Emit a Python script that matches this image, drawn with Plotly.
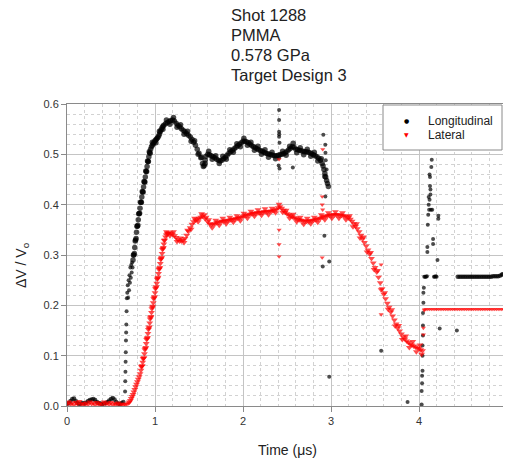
import plotly.graph_objects as go

# ---------------- data (time in microseconds, dV/Vo) ----------------
long_base = [(0.00,0.004),(0.02,0.006),(0.04,0.010),(0.06,0.014),(0.08,0.015),(0.10,0.010),(0.12,0.006),
             (0.14,0.004),(0.16,0.005),(0.18,0.006),(0.20,0.005),(0.22,0.007),(0.24,0.010),(0.26,0.012),
             (0.28,0.013),(0.30,0.014),(0.32,0.012),(0.34,0.008),(0.36,0.006),(0.38,0.005),(0.40,0.004),
             (0.42,0.005),(0.44,0.006),(0.46,0.008),(0.48,0.011),(0.50,0.014),(0.52,0.016),(0.54,0.013),
             (0.56,0.008),(0.58,0.005),(0.60,0.004),(0.62,0.006),(0.64,0.008)]
long_jump = [(0.660,0.029),(0.662,0.049),(0.664,0.068),(0.666,0.088),(0.668,0.107),(0.670,0.130),
             (0.672,0.146),(0.674,0.162),(0.677,0.188),(0.680,0.214),(0.685,0.225),(0.690,0.240),
             (0.695,0.215),(0.700,0.250),(0.705,0.230),(0.710,0.260),(0.715,0.245),(0.720,0.275),
             (0.725,0.255),(0.730,0.280),(0.735,0.265),(0.740,0.285),(0.745,0.275)]
long_main = [(0.75,0.290),(0.76,0.300),(0.77,0.315),(0.78,0.330),(0.79,0.345),(0.80,0.357),(0.81,0.370),
             (0.82,0.382),(0.83,0.393),(0.84,0.405),(0.85,0.415),(0.86,0.425),(0.87,0.435),(0.88,0.445),
             (0.89,0.455),(0.90,0.466),(0.91,0.476),(0.92,0.486),(0.93,0.495),(0.94,0.503),(0.95,0.510),
             (0.96,0.515),(0.97,0.518),(0.98,0.521),(0.99,0.524),(1.00,0.527),(1.01,0.529),(1.02,0.531),
             (1.03,0.533),(1.04,0.536),(1.05,0.540),(1.06,0.545),(1.07,0.549),(1.08,0.553),(1.09,0.556),
             (1.10,0.558),(1.12,0.561),(1.14,0.563),(1.16,0.565),(1.18,0.567),(1.20,0.568),(1.22,0.566),
             (1.24,0.562),(1.26,0.558),(1.28,0.555),(1.30,0.551),(1.32,0.548),(1.34,0.545),(1.36,0.541),
             (1.38,0.538),(1.40,0.535),(1.42,0.530),(1.44,0.524),(1.46,0.518),(1.48,0.510),(1.50,0.502),
             (1.52,0.493),(1.54,0.482),(1.55,0.476),(1.56,0.478),(1.57,0.488),(1.58,0.496),(1.60,0.500),
             (1.62,0.499),(1.64,0.497),(1.66,0.495),(1.68,0.493),(1.70,0.490),(1.72,0.488),(1.74,0.487),
             (1.76,0.488),(1.78,0.491),(1.80,0.494),(1.82,0.498),(1.84,0.502),(1.86,0.505),(1.88,0.508),
             (1.90,0.511),(1.92,0.514),(1.94,0.517),(1.96,0.520),(1.98,0.523),(2.00,0.526),(2.02,0.526),
             (2.04,0.525),(2.06,0.523),(2.08,0.520),(2.10,0.517),(2.12,0.515),(2.14,0.513),(2.16,0.511),
             (2.18,0.509),(2.20,0.507),(2.22,0.506),(2.24,0.504),(2.26,0.502),(2.28,0.501),(2.30,0.500),
             (2.32,0.499),(2.34,0.498),(2.36,0.497),(2.38,0.497),(2.40,0.498),(2.42,0.499),(2.44,0.500),
             (2.46,0.501),(2.48,0.503),(2.50,0.506),(2.52,0.509),(2.54,0.512),(2.56,0.515),(2.57,0.522),
             (2.58,0.514),(2.60,0.510),(2.62,0.509),(2.64,0.508),(2.66,0.507),(2.68,0.506),(2.70,0.505),
             (2.72,0.505),(2.74,0.504),(2.76,0.503),(2.78,0.501),(2.80,0.499),(2.82,0.497),(2.84,0.495),
             (2.86,0.492),(2.88,0.488),(2.90,0.482),(2.91,0.477),(2.92,0.470),(2.93,0.462),(2.94,0.455),
             (2.95,0.448),(2.96,0.442),(2.97,0.436)]
long_band = [(0.755,0.300),(0.765,0.303),(0.775,0.328),(0.785,0.333),(0.795,0.357),(0.805,0.359),
             (0.815,0.382),(0.825,0.383),(0.835,0.405),(0.845,0.405),(0.855,0.426),(0.865,0.425),
             (0.875,0.446),(0.885,0.445),(0.895,0.467),(0.905,0.466),(0.915,0.487),(0.925,0.486),
             (0.935,0.505),(0.945,0.502),(0.97,0.524),(1.01,0.523),(1.05,0.546),(1.09,0.550),
             (1.13,0.568),(1.17,0.560),(1.21,0.573),(1.25,0.554),(1.29,0.559),(1.33,0.540),(1.37,0.546),
             (1.41,0.526),(1.45,0.527),(1.49,0.500),(1.53,0.494),(1.57,0.482),(1.61,0.506),(1.65,0.490),
             (1.69,0.497),(1.73,0.482),(1.77,0.496),(1.81,0.490),(1.85,0.509),(1.89,0.504),(1.93,0.521),
             (1.97,0.515),(2.01,0.532),(2.05,0.518),(2.09,0.524),(2.13,0.508),(2.17,0.516),(2.21,0.500),
             (2.25,0.509),(2.29,0.494),(2.33,0.504),(2.37,0.491),(2.45,0.506),(2.49,0.498),(2.53,0.516),
             (2.61,0.503),(2.65,0.513),(2.69,0.499),(2.73,0.510),(2.77,0.496),(2.81,0.504),(2.85,0.487),
             (2.89,0.491),(2.93,0.456)]
long_spikes = [(2.410,0.588),(2.410,0.568),(2.410,0.545),(2.412,0.540),(2.410,0.535),(2.415,0.523),
               (2.410,0.493),(2.405,0.478),(2.415,0.472),(2.566,0.474),(2.913,0.539),(2.935,0.519),
               (2.937,0.503),(2.940,0.488),(2.950,0.470),(2.936,0.416),(2.925,0.338),(2.906,0.277),
               (2.980,0.287),(2.980,0.058),(3.570,0.110),(3.870,0.008)]
long_late = [(4.030,0.003),(4.030,0.030),(4.035,0.045),(4.035,0.060),(4.040,0.070),(4.040,0.100),
             (4.040,0.120),(4.045,0.140),(4.045,0.160),(4.045,0.185),(4.050,0.205),(4.050,0.225),
             (4.055,0.235),(4.060,0.257),(4.070,0.257),(4.080,0.257),(4.090,0.258),(4.095,0.306),
             (4.095,0.316),(4.100,0.360),(4.105,0.380),(4.110,0.400),(4.110,0.415),(4.120,0.410),
             (4.115,0.390),(4.125,0.437),(4.120,0.460),(4.125,0.455),(4.140,0.475),(4.145,0.489),
             (4.130,0.420),(4.130,0.430),(4.135,0.390),(4.150,0.390),(4.160,0.332),(4.160,0.322),
             (4.170,0.257),(4.180,0.257),(4.190,0.258),(4.200,0.257),(4.210,0.290),(4.220,0.378),
             (4.220,0.372),(4.235,0.154),(4.430,0.150)]
long_hold = [(4.44,0.257),(4.46,0.257),(4.48,0.257),(4.50,0.257),(4.52,0.257),(4.54,0.257),(4.56,0.257),
             (4.58,0.257),(4.60,0.257),(4.62,0.257),(4.64,0.257),(4.66,0.257),(4.68,0.257),(4.70,0.257),
             (4.72,0.257),(4.74,0.257),(4.76,0.257),(4.78,0.257),(4.80,0.257),(4.82,0.257),(4.84,0.258),
             (4.86,0.258),(4.88,0.258),(4.90,0.258),(4.92,0.259),(4.94,0.261),(4.95,0.262)]

lat_base = [(0.00,0.004),(0.02,0.008),(0.04,0.003),(0.06,0.006),(0.08,0.002),(0.10,0.007),(0.12,0.004),
            (0.14,0.009),(0.16,0.003),(0.18,0.005),(0.20,0.002),(0.22,0.006),(0.24,0.003),(0.26,0.008),
            (0.28,0.004),(0.30,0.006),(0.32,0.002),(0.34,0.007),(0.36,0.003),(0.38,0.005),(0.40,0.002),
            (0.42,0.008),(0.44,0.004),(0.46,0.006),(0.48,0.003),(0.50,0.007),(0.52,0.002),(0.54,0.005),
            (0.56,0.003),(0.58,0.006),(0.60,0.002),(0.62,0.004),(0.64,0.002),(0.66,0.003),(0.68,0.004),
            (0.70,0.006)]
lat_main = [(0.71,0.008),(0.72,0.011),(0.73,0.015),(0.74,0.019),(0.75,0.023),(0.76,0.028),(0.77,0.033),
            (0.78,0.038),(0.79,0.043),(0.80,0.048),(0.81,0.053),(0.82,0.058),(0.83,0.064),(0.84,0.071),
            (0.85,0.079),(0.86,0.087),(0.87,0.095),(0.88,0.104),(0.89,0.114),(0.90,0.124),(0.91,0.134),
            (0.92,0.144),(0.93,0.155),(0.94,0.165),(0.95,0.176),(0.96,0.186),(0.97,0.196),(0.98,0.205),
            (0.99,0.215),(1.00,0.225),(1.01,0.235),(1.02,0.244),(1.03,0.254),(1.04,0.263),(1.05,0.273),
            (1.06,0.283),(1.07,0.293),(1.08,0.303),(1.09,0.313),(1.10,0.322),(1.11,0.330),(1.12,0.336),
            (1.13,0.340),(1.14,0.342),(1.15,0.343),(1.16,0.344),(1.18,0.343),(1.20,0.341),(1.22,0.338),
            (1.24,0.335),(1.26,0.331),(1.28,0.328),(1.30,0.328),(1.32,0.330),(1.34,0.333),(1.36,0.339),
            (1.38,0.347),(1.40,0.354),(1.42,0.361),(1.44,0.366),(1.46,0.369),(1.48,0.371),(1.50,0.373),
            (1.52,0.375),(1.54,0.377),(1.56,0.380),(1.58,0.375),(1.60,0.366),(1.62,0.362),(1.64,0.360),
            (1.66,0.361),(1.68,0.362),(1.70,0.364),(1.72,0.365),(1.74,0.366),(1.76,0.367),(1.78,0.367),
            (1.80,0.368),(1.82,0.368),(1.84,0.369),(1.86,0.370),(1.88,0.371),(1.90,0.371),(1.92,0.372),
            (1.94,0.373),(1.96,0.374),(1.98,0.375),(2.00,0.377),(2.02,0.378),(2.04,0.379),(2.06,0.380),
            (2.08,0.381),(2.10,0.382),(2.12,0.383),(2.14,0.383),(2.16,0.384),(2.18,0.384),(2.20,0.385),
            (2.22,0.385),(2.24,0.386),(2.26,0.386),(2.28,0.386),(2.30,0.387),(2.32,0.387),(2.34,0.388),
            (2.36,0.389),(2.38,0.391),(2.40,0.394),(2.42,0.396),(2.44,0.393),(2.46,0.389),(2.48,0.385),
            (2.50,0.382),(2.52,0.380),(2.54,0.378),(2.56,0.376),(2.58,0.374),(2.60,0.373),(2.62,0.371),
            (2.64,0.370),(2.66,0.369),(2.68,0.368),(2.70,0.367),(2.72,0.367),(2.74,0.367),(2.76,0.368),
            (2.78,0.368),(2.80,0.369),(2.82,0.370),(2.84,0.371),(2.86,0.372),(2.88,0.373),(2.90,0.375),
            (2.92,0.376),(2.94,0.377),(2.96,0.378),(2.98,0.379),(3.00,0.379),(3.02,0.380),(3.04,0.380),
            (3.06,0.380),(3.08,0.380),(3.10,0.379),(3.12,0.379),(3.14,0.378),(3.16,0.377),(3.18,0.376),
            (3.20,0.374),(3.22,0.371),(3.24,0.367),(3.26,0.362),(3.28,0.357),(3.30,0.352),(3.32,0.346),
            (3.34,0.339),(3.36,0.332),(3.38,0.325),(3.40,0.318),(3.42,0.310),(3.44,0.302),(3.46,0.293),
            (3.48,0.284),(3.50,0.275),(3.52,0.266),(3.54,0.256),(3.56,0.245),(3.58,0.233),(3.60,0.222),
            (3.62,0.213),(3.64,0.204),(3.66,0.196),(3.68,0.187),(3.70,0.179),(3.72,0.171),(3.74,0.163),
            (3.76,0.155),(3.78,0.149),(3.80,0.143),(3.82,0.137),(3.84,0.133),(3.86,0.129),(3.88,0.126),
            (3.90,0.123),(3.92,0.121),(3.94,0.119),(3.96,0.117),(3.98,0.115),(4.00,0.114),(4.02,0.112),
            (4.04,0.110)]
lat_band = [(0.845,0.078),(0.855,0.080),(0.865,0.094),(0.875,0.096),(0.885,0.112),(0.895,0.116),
            (0.905,0.132),(0.915,0.136),(0.925,0.152),(0.935,0.157),(0.945,0.173),(0.955,0.178),
            (0.965,0.193),(0.975,0.198),(0.985,0.213),(0.995,0.217),(1.005,0.233),(1.015,0.237),
            (1.025,0.252),(1.035,0.256),(1.045,0.271),(1.055,0.275),(1.065,0.291),(1.075,0.295),
            (1.085,0.311),(1.095,0.315),(1.105,0.329),
            (1.13,0.346),(1.17,0.338),(1.21,0.346),(1.25,0.327),(1.29,0.334),(1.33,0.325),(1.37,0.349),
            (1.41,0.351),(1.45,0.373),(1.49,0.366),(1.53,0.382),(1.57,0.372),(1.61,0.370),(1.65,0.354),
            (1.69,0.369),(1.73,0.359),(1.77,0.373),(1.81,0.362),(1.85,0.375),(1.89,0.365),(1.93,0.378),
            (1.97,0.368),(2.01,0.383),(2.05,0.373),(2.09,0.387),(2.13,0.377),(2.17,0.390),(2.21,0.379),
            (2.25,0.392),(2.29,0.380),(2.33,0.393),(2.37,0.384),(2.41,0.401),(2.45,0.385),(2.49,0.389),
            (2.53,0.373),(2.57,0.381),(2.61,0.366),(2.65,0.375),(2.69,0.361),(2.73,0.373),(2.77,0.362),
            (2.81,0.375),(2.85,0.365),(2.89,0.380),(2.93,0.370),(2.97,0.384),(3.01,0.373),(3.05,0.386),
            (3.09,0.373),(3.13,0.384),(3.17,0.370),(3.21,0.378),(3.25,0.356),(3.29,0.362),(3.33,0.334),
            (3.37,0.336),(3.41,0.306),(3.45,0.305),(3.49,0.271),(3.53,0.269),(3.57,0.231),(3.61,0.225),
            (3.65,0.192),(3.69,0.191),(3.73,0.159),(3.77,0.160),(3.81,0.132),(3.85,0.139),(3.89,0.116),
            (3.93,0.128),(3.97,0.108),(4.01,0.121),(4.03,0.103)]
lat_spikes = [(2.410,0.350),(2.410,0.321),(2.410,0.297),(2.410,0.490),(2.906,0.510),(2.900,0.416),
              (2.900,0.400),(2.905,0.390),(2.900,0.295),(3.570,0.281),(3.570,0.182),(4.050,0.155),
              (4.050,0.142),(4.060,0.190)]
lat_hold = [(4.06,0.192),(4.08,0.192),(4.10,0.192),(4.12,0.192),(4.14,0.192),(4.16,0.192),(4.18,0.192),
            (4.20,0.192),(4.22,0.192),(4.24,0.192),(4.26,0.192),(4.28,0.192),(4.30,0.192),(4.32,0.192),
            (4.34,0.192),(4.36,0.192),(4.38,0.192),(4.40,0.192),(4.42,0.192),(4.44,0.192),(4.46,0.192),
            (4.48,0.192),(4.50,0.192),(4.52,0.192),(4.54,0.192),(4.56,0.192),(4.58,0.192),(4.60,0.192),
            (4.62,0.192),(4.64,0.192),(4.66,0.192),(4.68,0.192),(4.70,0.192),(4.72,0.192),(4.74,0.192),
            (4.76,0.192),(4.78,0.192),(4.80,0.192),(4.82,0.192),(4.84,0.192),(4.86,0.192),(4.88,0.192),
            (4.90,0.192),(4.92,0.192),(4.94,0.192),(4.96,0.192),(4.98,0.192),(5.00,0.192)]

title_lines = ["Shot 1288", "PMMA", "0.578 GPa", "Target Design 3"]
series_names = ["Longitudinal", "Lateral"]
x_ticks = [0, 1, 2, 3, 4, 5]
y_ticks = [0.0, 0.1, 0.2, 0.3, 0.4, 0.5, 0.6]

# segments with their marker sizes (style)
long_segs = [(long_base, 4.5), (long_jump, 4), (long_main, 5.5), (long_band, 5.5),
             (long_spikes, 4), (long_late, 4), (long_hold, 4.5)]
lat_segs = [(lat_base, 5.5), (lat_main, 6), (lat_band, 6), (lat_spikes, 4.5), (lat_hold, 4)]


def unpack(segs):
    xs, ys, ss = [], [], []
    for seg, size in segs:
        xs += [p[0] for p in seg]
        ys += [p[1] for p in seg]
        ss += [size] * len(seg)
    return xs, ys, ss


FONT = "Arial, Liberation Sans, sans-serif"
fig = go.Figure()
lx, ly, ls = unpack(long_segs)
fig.add_trace(go.Scatter(x=lx, y=ly, mode="markers", name=series_names[0], showlegend=False,
                         marker=dict(color="black", size=ls, symbol="circle", line=dict(width=0))))
ax_, ay_, as_ = unpack(lat_segs)
fig.add_trace(go.Scatter(x=ax_, y=ay_, mode="markers", name=series_names[1], showlegend=False,
                         marker=dict(color="red", size=as_, symbol="triangle-down", line=dict(width=0))))

# the page body adds an 8px offset, so the figure is drawn 8px smaller and positions are
# given in reference-window pixels
OFF = 8
W, H = 511 - OFF, 466 - OFF
PL, PR, PT, PB = 67, 507, 104, 406           # plot box in window pixels
L, R, T, B = PL - OFF, W - (PR - OFF), PT - OFF, H - (PB - OFF)


def px(xp):
    return (xp - PL) / (PR - PL)


def py(yp):
    return (PB - yp) / (PB - PT)


axis_common = dict(showline=True, linecolor="#8a8a8a", linewidth=1, mirror=True, ticks="outside",
                   ticklen=5, tickcolor="#8a8a8a", showgrid=True, gridcolor="#c4c4c4", gridwidth=1,
                   zeroline=False, automargin=False, tickfont=dict(family=FONT, size=11, color="#333"))
fig.update_layout(
    width=W, height=H, margin=dict(l=L, r=R, t=T, b=B, autoexpand=False),
    paper_bgcolor="white", plot_bgcolor="white",
    font=dict(family=FONT, color="#222"),
    xaxis=dict(range=[0, 5], tickvals=x_ticks,
               minor=dict(dtick=0.2, showgrid=True, griddash="dot", gridcolor="#d2d2d2", ticks=""),
               **axis_common),
    yaxis=dict(range=[0, 0.6], tickvals=y_ticks, tickformat=".1f",
               minor=dict(dtick=0.02, showgrid=True, griddash="dot", gridcolor="#d2d2d2", ticks=""),
               **axis_common),
    showlegend=False,
)

# legend box drawn by hand (compact entry spacing of the original)
fig.add_shape(type="rect", xref="paper", yref="paper", x0=px(383), x1=px(502), y0=py(150), y1=py(105),
              line=dict(color="#8a8a8a", width=1), fillcolor="white", layer="above")
legend_rows = [(120.5, "●", "black", 6), (134.5, "▼", "red", 6)]
for (yc, glyph, col, gsz), name in zip(legend_rows, series_names):
    fig.add_annotation(text=glyph, xref="paper", yref="paper", x=px(406.5), y=py(yc),
                       xanchor="center", yanchor="middle", showarrow=False,
                       font=dict(family="DejaVu Sans", size=gsz, color=col))
    fig.add_annotation(text=name, xref="paper", yref="paper", x=px(426), y=py(yc),
                       xanchor="left", yanchor="middle", showarrow=False,
                       font=dict(family=FONT, size=12, color="#222"))

title_centers = [15, 35, 55, 75]
for line, yc in zip(title_lines, title_centers):
    fig.add_annotation(text=line, xref="paper", yref="paper", x=px(229), y=py(yc),
                       xanchor="left", yanchor="middle", align="left", showarrow=False,
                       font=dict(family=FONT, size=16.5, color="#222"))
fig.add_annotation(text="Time (μs)", xref="paper", yref="paper", x=px(287), y=py(450),
                   xanchor="center", yanchor="middle", showarrow=False,
                   font=dict(family=FONT, size=14, color="#222"))
fig.add_annotation(text="ΔV / V<sub>o</sub>", xref="paper", yref="paper", x=px(22), y=py(265),
                   xanchor="center", yanchor="middle", textangle=-90, showarrow=False,
                   font=dict(family=FONT, size=14, color="#222"))
fig.write_html("out.html")
